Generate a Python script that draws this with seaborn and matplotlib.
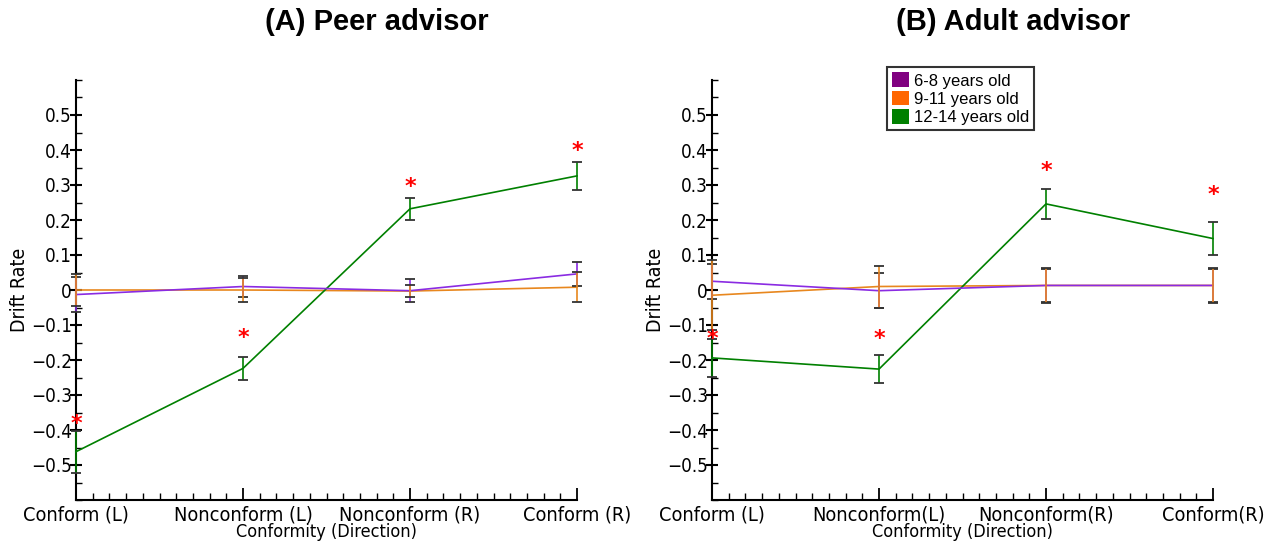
import numpy as np
import pandas as pd
import matplotlib
matplotlib.use("Agg")
import matplotlib.pyplot as plt
import seaborn as sns
from matplotlib.patches import Patch
from matplotlib.ticker import MultipleLocator, FixedLocator

# --- data ---
ages = ["6-8 years old", "9-11 years old", "12-14 years old"]
cats_peer = ["Conform (L)", "Nonconform (L)", "Nonconform (R)", "Conform (R)"]
cats_adult = ["Conform (L)", "Nonconform(L)", "Nonconform(R)", "Conform(R)"]

peer_young = [-0.013, 0.010, -0.002, 0.046]
peer_mid = [0.000, 0.000, -0.003, 0.008]
peer_old = [-0.462, -0.224, 0.232, 0.326]
peer_young_err = [0.050, 0.030, 0.033, 0.035]
peer_mid_err = [0.046, 0.034, 0.017, 0.043]
peer_old_err = [0.060, 0.034, 0.032, 0.040]
peer_stars = [-0.370, -0.123, 0.307, 0.412]

adult_young = [0.025, -0.002, 0.013, 0.013]
adult_mid = [-0.015, 0.010, 0.013, 0.013]
adult_old = [-0.194, -0.226, 0.246, 0.147]
adult_young_err = [0.050, 0.050, 0.047, 0.048]
adult_mid_err = [0.100, 0.060, 0.050, 0.050]
adult_old_err = [0.055, 0.041, 0.044, 0.048]
adult_stars = [-0.127, -0.127, 0.355, 0.285]

line_colors = {"6-8 years old": "#8a2be2", "9-11 years old": "#e8871e", "12-14 years old": "#008000"}
legend_colors = ["#800080", "#ff6600", "#008000"]
line_z = [3.2, 3.0, 3.1]

plt.rcParams['font.family'] = ['DejaVu Sans']
COND = "condensed"


def long_frame(cats, series):
    rows = []
    for age, vals in zip(ages, series):
        for i, v in enumerate(vals):
            rows.append({"pos": i, "cat": cats[i], "age": age, "drift": v})
    return pd.DataFrame(rows)


def draw_panel(ax, cats, series, errs, stars, title):
    df = long_frame(cats, series)
    sns.lineplot(data=df, x="pos", y="drift", hue="age", hue_order=ages,
                 palette=line_colors, linewidth=1.2, legend=False, ax=ax,
                 clip_on=False)
    for line, z in zip(ax.lines, line_z):
        line.set_zorder(z)
    for age, vals, err in zip(ages, series, errs):
        _, caps, _ = ax.errorbar(range(len(cats)), vals, yerr=err, fmt="none",
                                 ecolor=line_colors[age], elinewidth=1.2,
                                 capsize=3.6, capthick=1.3, zorder=4, clip_on=False)
        for c in caps:
            c.set_color("#333333")
            c.set_markeredgecolor("#333333")
    for i, s in enumerate(stars):
        ax.annotate("*", (i, s), xytext=(0, -3.5), textcoords="offset points",
                    color="red", fontsize=16, ha="center", va="center",
                    fontweight="bold", zorder=5)

    ax.set_xlim(0, 3)
    ax.set_ylim(-0.6, 0.6)
    sns.despine(ax=ax)
    ax.spines["left"].set_linewidth(1.5)
    ax.spines["bottom"].set_linewidth(1.5)

    yt = np.round(np.arange(-0.5, 0.51, 0.1), 2)
    ax.xaxis.set_major_locator(FixedLocator([0, 1, 2, 3]))
    ax.xaxis.set_minor_locator(MultipleLocator(0.1))
    ax.set_xticklabels(cats, fontsize=14.3, fontstretch=COND)
    ax.yaxis.set_major_locator(FixedLocator(yt))
    ax.yaxis.set_minor_locator(MultipleLocator(0.05))
    ax.set_yticklabels([("0" if abs(v) < 1e-9 else f"{v:g}".replace("-", "\u2212"))
                        for v in yt], fontsize=13.5, fontstretch=COND)
    ax.tick_params(axis="x", which="major", direction="in", length=9, width=1.3, pad=4)
    ax.tick_params(axis="x", which="minor", direction="in", length=5, width=1.0)
    ax.tick_params(axis="y", which="major", direction="inout", length=8, width=1.5, pad=-1)
    ax.tick_params(axis="y", which="minor", direction="in", length=4, width=1.0)

    ax.set_xlabel("Conformity (Direction)", fontsize=13, fontstretch=COND, labelpad=-1)
    ax.set_ylabel("Drift Rate", fontsize=14, fontstretch=COND, labelpad=1)
    ax.text(0.6, 1.138, title, transform=ax.transAxes, ha="center", va="center",
            fontsize=21, fontweight="bold", family="Liberation Sans")


fig = plt.figure(figsize=(12.77, 5.45), dpi=100)
ax1 = fig.add_axes([76 / 1277, 45 / 545, 501 / 1277, 420 / 545])
ax2 = fig.add_axes([712 / 1277, 45 / 545, 501 / 1277, 420 / 545])

draw_panel(ax1, cats_peer, [peer_young, peer_mid, peer_old],
           [peer_young_err, peer_mid_err, peer_old_err], peer_stars, "(A) Peer advisor")
draw_panel(ax2, cats_adult, [adult_young, adult_mid, adult_old],
           [adult_young_err, adult_mid_err, adult_old_err], adult_stars, "(B) Adult advisor")

handles = [Patch(facecolor=c, edgecolor="none") for c in legend_colors]
leg = ax2.legend(handles, ages, loc="upper left", bbox_to_anchor=(0.349, 1.03),
                 frameon=True, fancybox=False, edgecolor="black",
                 prop={"family": "Liberation Sans", "size": 12},
                 handlelength=1.0, handleheight=1.0, handletextpad=0.3,
                 labelspacing=0.12, borderpad=0.3, borderaxespad=0)
leg.get_frame().set_linewidth(1.5)

fig.savefig("out.png", dpi=100)
